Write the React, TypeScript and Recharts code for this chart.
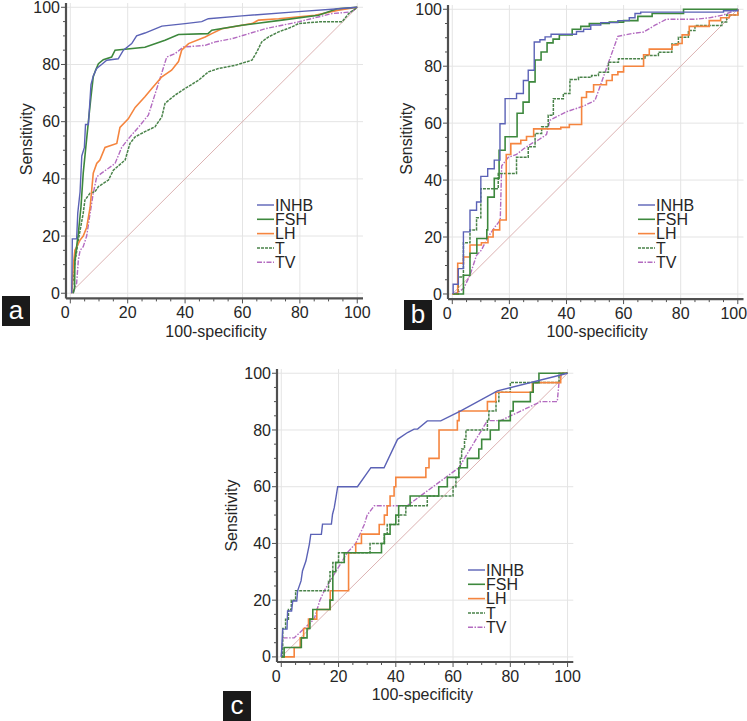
import React from 'react';
import { LineChart, Line, XAxis, YAxis, ReferenceLine, Legend } from 'recharts';

type P = [number, number];

const SERIES = ['INHB', 'FSH', 'LH', 'T', 'TV'];
const TICKS = [0, 5, 10, 15, 20, 25, 30, 35, 40, 45, 50, 55, 60, 65, 70, 75, 80, 85, 90, 95, 100];
const GRID = [0, 20, 40, 60, 80, 100];
const DIAGONAL: P[] = [[0, 0], [100, 100]];
const X_LABEL = '100-specificity';
const Y_LABEL = 'Sensitivity';

// ---------- Panel a ----------
const A_INHB: P[] = [[0.5, 0], [0.7, 19], [2.2, 19], [2.6, 28], [3.4, 35.5], [4, 48], [4.9, 51], [5.3, 59], [6.3, 59], [6.5, 62], [7.2, 73], [8, 76], [9.2, 78.6], [10.9, 80], [12.7, 81.5], [16.7, 82], [18.5, 85], [21.4, 87.3], [23.1, 90], [26, 91], [31.9, 93.4], [40, 94.3], [45.8, 95], [48.1, 96], [59.8, 97], [79.5, 98.5], [93.5, 99.5], [100, 100]];
const A_FSH: P[] = [[1, 0], [1.5, 2], [1.6, 11.6], [2.8, 21], [3.7, 30], [4.5, 42], [5.4, 51], [6.3, 60], [7.2, 68.7], [8, 75.7], [8.8, 78], [9.8, 80.3], [11.5, 81.7], [14.4, 82.6], [15.6, 85], [26, 86], [33, 88.5], [37.7, 90.5], [48, 90.8], [49.3, 92], [59.8, 93.7], [73.7, 95.5], [86.5, 97.2], [93, 99.5], [100, 100]];
const A_LH: P[] = [[0.5, 0], [1, 9.3], [1.6, 15], [3.4, 18.6], [4.5, 20], [5.7, 23], [6.9, 30], [8, 42], [9.2, 45.4], [10.3, 46.6], [12.1, 51], [16.2, 52.4], [17.3, 58], [20.2, 61], [22.6, 65], [26, 68.7], [28.4, 71.6], [31.9, 75.7], [35.3, 78], [37.7, 81], [38.8, 85], [41.2, 87.3], [47, 89.6], [49.3, 90.8], [52.8, 92.5], [63.3, 94.3], [65.6, 95.5], [72.6, 96], [85.3, 97.2], [93.5, 99], [100, 100]];
const A_T: P[] = [[0.5, 0], [1.6, 10.5], [2.8, 18.6], [4.5, 28], [5.1, 32.6], [6.9, 35], [8.6, 35.5], [9.8, 37.3], [13.3, 39.6], [15, 43], [19.1, 46.6], [20.8, 52.4], [22.6, 54.7], [26, 56.5], [29.5, 58.2], [31.9, 61.7], [33, 66.4], [36.5, 69.3], [40, 71.6], [44.7, 74.5], [48.1, 77.4], [51.6, 78.6], [57.4, 79.7], [63.3, 81.5], [65, 84.4], [66.7, 87.9], [69, 89.6], [72.6, 91.4], [77.2, 93.1], [79.5, 94.3], [86.5, 94.9], [94.7, 94.9], [97, 97.8], [100, 100]];
const A_TV: P[] = [[1, 0], [2.2, 3.5], [2.8, 11.6], [3.4, 15], [4.5, 16.3], [5.7, 20], [6.9, 28], [8, 35], [9.2, 40.7], [10.9, 42], [13.3, 43.7], [15.6, 45.4], [17.9, 51], [20.8, 54.7], [23.7, 58], [27.2, 62.3], [30.7, 73.3], [33.6, 82.6], [36.5, 83.8], [39.4, 86.1], [47, 86.7], [50.5, 87.9], [56.3, 89], [67.9, 92.5], [79.5, 94.9], [91.2, 97.8], [98, 98.4], [100, 100]];

// ---------- Panel b ----------
const B_INHB: P[] = [[0.3, 0], [0.3, 3.4], [2.1, 8.9], [3.9, 21.8], [6.2, 29.4], [8.5, 32.3], [10, 41.3], [12.4, 44], [14.7, 47], [16.7, 59.8], [18.5, 68.6], [22.5, 70.4], [24.9, 75], [26.6, 78.6], [28.7, 88.5], [30.7, 89.3], [32.5, 90.3], [34.6, 91.2], [43.5, 92.2], [46, 93], [48.5, 94.5], [52, 95.3], [58, 96], [62, 97], [64, 98.5], [66, 99], [95, 99.5], [100, 100]];
const B_FSH: P[] = [[0.3, 0], [3.9, 6.6], [6.2, 14.3], [8.6, 19.5], [12.1, 22.5], [12.4, 34], [14.7, 40.6], [16.4, 50.5], [18.5, 55.2], [22.7, 63.5], [24.8, 67.4], [26.9, 74.5], [29, 82.2], [31.1, 85], [33.2, 88.2], [35.3, 89.5], [37.5, 91], [42, 93], [45, 94], [48, 95], [55, 95.5], [60, 96], [65, 97.5], [70, 98.5], [81, 100], [100, 100]];
const B_LH: P[] = [[0, 0], [1.9, 10.8], [3.9, 13], [6.2, 17.2], [10.2, 18], [12.5, 20], [14.3, 22.5], [16.6, 26], [18.9, 49], [20.5, 52.8], [24, 54], [26, 55.3], [28.5, 58], [38, 58.5], [41, 59.5], [45.3, 69], [47, 71], [49.5, 73.5], [54, 75], [56, 77], [58, 78], [60, 80], [67, 84], [69, 86], [77, 87.5], [79, 88], [80.5, 91], [83, 94], [90, 96], [94, 97], [97, 98], [100, 100]];
const B_T: P[] = [[0, 0], [2.1, 6], [3.9, 18], [6.2, 22.5], [8.5, 26.8], [10, 37], [16.1, 42.3], [22.5, 48], [26.6, 51.7], [29, 56.4], [31.3, 58.7], [33.6, 62.8], [35.4, 68.6], [38.9, 70.4], [41.2, 75.3], [44.2, 76.1], [48.8, 76.7], [51.2, 77.9], [54.7, 81.4], [58.2, 82.6], [67.5, 83.8], [72.2, 84.9], [76.9, 87.8], [79.2, 90.2], [82.7, 92.5], [85, 94.3], [94.4, 95.5], [96.1, 98], [100, 100]];
const B_TV: P[] = [[0, 0], [2, 0.5], [4, 2], [6.2, 6.6], [8.5, 13.6], [10.2, 15.4], [12.5, 20], [14.9, 23.5], [16.8, 25.9], [17.3, 45], [19.6, 48], [22.5, 49], [25, 51], [28, 53], [30, 54], [33, 56], [34.2, 61], [37, 62.5], [40, 64], [46, 66], [50, 68], [58, 90.5], [63, 91.5], [67, 92], [71, 94.4], [75, 96.5], [85, 96.5], [90, 97], [95, 98], [100, 100]];

// ---------- Panel c ----------
const C_INHB: P[] = [[0, 0], [0.5, 9.8], [2, 9.8], [2.2, 16.2], [3.6, 16.2], [4, 19.7], [5.4, 19.7], [5.7, 23.3], [6.9, 26.8], [7.4, 30.3], [8.6, 33.8], [9.8, 39.7], [10.3, 43.2], [14, 43.2], [14.4, 46.8], [17.5, 46.8], [17.9, 50.3], [18.5, 52.6], [19.1, 56.2], [19.7, 60], [26.6, 60], [31.3, 66.7], [35.9, 66.7], [40.6, 76.7], [44.1, 79.1], [46.4, 80.3], [47.6, 80.3], [51, 83.2], [55.7, 83.2], [62.7, 86.7], [75.5, 93.8], [100, 100]];
const C_FSH: P[] = [[0, 0], [1, 3.3], [7, 6.7], [9, 10], [10, 13.3], [11, 16.7], [17, 20], [18, 30], [19, 33.3], [22, 36.7], [35, 40], [36, 43.3], [38, 46.7], [40, 50], [41, 53.3], [45, 56.7], [55, 60], [58, 63.3], [62, 66.7], [65, 70], [69, 73.3], [70, 76.7], [73, 80], [76, 83.3], [80, 86.7], [81, 90], [87, 93.3], [88, 96.7], [90, 100], [100, 100]];
const C_LH: P[] = [[0, 0], [4.5, 3.3], [6.6, 6.7], [7.8, 10], [9.5, 13.3], [12.4, 16.7], [17.1, 23.3], [23.5, 36.7], [26, 40], [28, 43.3], [34.2, 46.7], [36, 50], [37, 53.3], [38, 56.7], [39.4, 60], [40, 63.3], [50.5, 66.7], [51.6, 70], [55.1, 80], [61.5, 83.3], [62.1, 86.7], [72, 90], [74.9, 93.3], [87.7, 96.7], [97.6, 100], [100, 100]];
const C_T: P[] = [[0, 0], [0.5, 10], [1.5, 13.3], [2.5, 16.7], [3.5, 20], [5, 23.3], [16.5, 26.7], [17, 30], [18, 33.3], [20, 36.7], [31, 40], [36, 43.3], [37, 46.7], [41, 50], [43.5, 53.3], [51, 56.7], [60, 60], [61, 63.3], [62, 66.7], [62.5, 70], [63, 73.3], [64, 76.7], [64.5, 80], [72, 83.3], [72.5, 86.7], [75, 90], [76, 93.3], [80, 96.7], [97, 100], [100, 100]];
const C_TV: P[] = [[0, 0], [0.5, 6.7], [4.5, 6.7], [8, 10], [11.5, 13.3], [12.5, 16.7], [13.5, 20], [15, 23.3], [17, 26.7], [19, 30], [21, 33.3], [23, 36.7], [26, 40], [27.5, 43.3], [29, 46.7], [30, 50], [32.5, 53.3], [44, 53.3], [62, 66.7], [64, 70], [66, 73.3], [68, 76.7], [70, 80], [72, 83.3], [76.6, 83.3], [90.6, 90], [96.4, 90], [97, 96.7], [98, 100], [100, 100]];

// ---------- styles ----------
const LINE_STYLE: Record<string, { stroke: string; width: number; dash?: string }> = {
  INHB: { stroke: '#5b62b6', width: 1.4 },
  FSH: { stroke: '#3d883d', width: 1.6 },
  LH: { stroke: '#f5853f', width: 1.6 },
  T: { stroke: '#4a834a', width: 1.5, dash: '3 1' },
  TV: { stroke: '#b36bc0', width: 1.4, dash: '5 1.5 1.5 1.5' },
};
const DRAW_ORDER = ['TV', 'T', 'LH', 'FSH', 'INHB'];
const FONT = '"Liberation Sans", Arial, sans-serif';
const TEXT_COLOR = '#262626';
const AXIS_COLOR = '#505050';
const GRID_COLOR = '#e4e4e4';
const DOMAIN_X: [number, number] = [-1.5, 102];
const DOMAIN_Y: [number, number] = [-1.8, 101.5];
const YW = 60;
const XH = 50;
const MT = 10;
const MR = 8;

const toPts = (arr: P[]) => arr.map(([x, y]) => ({ x, y }));

type Panel = {
  key: string;
  plotLeft: number;
  plotTop: number;
  plotW: number;
  plotH: number;
  series: Record<string, P[]>;
  types: Record<string, 'linear' | 'stepAfter'>;
  yLabel: [number, number];
  xLabel: [number, number];
  legend: [number, number];
  box: [number, number];
  lastTickShift: number;
};

const PANELS: Panel[] = [
  {
    key: 'a', plotLeft: 66, plotTop: 2.7, plotW: 297, plotH: 295.4,
    series: { INHB: A_INHB, FSH: A_FSH, LH: A_LH, T: A_T, TV: A_TV },
    types: { INHB: 'linear', FSH: 'linear', LH: 'linear', T: 'linear', TV: 'linear' },
    yLabel: [27, 139], xLabel: [216, 337], legend: [257, 205], box: [2, 296], lastTickShift: 0,
  },
  {
    key: 'b', plotLeft: 447.9, plotTop: 4.7, plotW: 295.5, plotH: 294.1,
    series: { INHB: B_INHB, FSH: B_FSH, LH: B_LH, T: B_T, TV: B_TV },
    types: { INHB: 'stepAfter', FSH: 'stepAfter', LH: 'stepAfter', T: 'stepAfter', TV: 'linear' },
    yLabel: [406, 138.5], xLabel: [597, 337], legend: [638, 205], box: [404, 300], lastTickShift: -4,
  },
  {
    key: 'c', plotLeft: 276.7, plotTop: 369.4, plotW: 296.3, plotH: 293,
    series: { INHB: C_INHB, FSH: C_FSH, LH: C_LH, T: C_T, TV: C_TV },
    types: { INHB: 'linear', FSH: 'stepAfter', LH: 'stepAfter', T: 'stepAfter', TV: 'linear' },
    yLabel: [231.5, 516], xLabel: [422, 700], legend: [468, 570], box: [223, 691], lastTickShift: 0,
  },
];

function LegendBox() {
  const rowH = 14.3;
  return (
    <svg width={110} height={80} style={{ overflow: 'visible', display: 'block' }}>
      {SERIES.map((n, i) => {
        const s = LINE_STYLE[n];
        const cy = 7 + i * rowH;
        return (
          <g key={n}>
            <line x1={0} x2={17} y1={cy} y2={cy} stroke={s.stroke} strokeWidth={s.width} strokeDasharray={s.dash} />
            <text x={18} y={cy + 5.7} fontSize={16} fontFamily={FONT} fill={TEXT_COLOR}>{n}</text>
          </g>
        );
      })}
    </svg>
  );
}

function PanelChart({ p }: { p: Panel }) {
  const left = p.plotLeft - YW;
  const top = p.plotTop - MT;
  const W = p.plotW + YW + MR;
  const H = p.plotH + MT + XH;
  const axisY = MT + p.plotH;
  const axisX = YW;

  const XTick = (props: any) => {
    const { x, payload } = props;
    const v = payload.value as number;
    const major = v % 20 === 0;
    const dx = v === 0 ? -5 : v === 100 ? p.lastTickShift : 0;
    return (
      <g>
        <line x1={x} x2={x} y1={axisY} y2={axisY + (major ? 5 : 3)} stroke={AXIS_COLOR} strokeWidth={1} />
        {major && (
          <text x={x + dx} y={axisY + 20} textAnchor="middle" fontSize={16} fontFamily={FONT} fill={TEXT_COLOR}>{v}</text>
        )}
      </g>
    );
  };
  const YTick = (props: any) => {
    const { y, payload } = props;
    const v = payload.value as number;
    const major = v % 20 === 0;
    return (
      <g>
        <line x1={axisX - (major ? 5 : 3)} x2={axisX} y1={y} y2={y} stroke={AXIS_COLOR} strokeWidth={1} />
        {major && (
          <text x={axisX - 6} y={y + 5.6} textAnchor="end" fontSize={16} fontFamily={FONT} fill={TEXT_COLOR}>{v}</text>
        )}
      </g>
    );
  };
  const yl = [p.yLabel[0] - left, p.yLabel[1] - top];
  const xl = [p.xLabel[0] - left, p.xLabel[1] - top];

  return (
    <div style={{ position: 'absolute', left, top, width: W, height: H }}>
      <LineChart width={W} height={H} margin={{ top: MT, right: MR, bottom: 0, left: 0 }}>
        <XAxis
          type="number" dataKey="x" domain={DOMAIN_X} ticks={TICKS} interval={0} allowDataOverflow
          height={XH} tickLine={false} axisLine={false} tick={XTick}
          label={() => (
            <text x={xl[0]} y={xl[1]} textAnchor="middle" fontSize={16} fontFamily={FONT} fill={TEXT_COLOR}>{X_LABEL}</text>
          )}
        />
        <YAxis
          type="number" dataKey="y" domain={DOMAIN_Y} ticks={TICKS} interval={0} allowDataOverflow
          width={YW} tickLine={false} axisLine={false} tick={YTick}
          label={() => (
            <text x={yl[0]} y={yl[1]} transform={`rotate(-90 ${yl[0]} ${yl[1]})`} textAnchor="middle" dominantBaseline="central" fontSize={16} fontFamily={FONT} fill={TEXT_COLOR}>{Y_LABEL}</text>
          )}
        />
        {GRID.map((g) => (
          <ReferenceLine key={'gx' + g} x={g} stroke={GRID_COLOR} strokeWidth={1} />
        ))}
        {GRID.map((g) => (
          <ReferenceLine key={'gy' + g} y={g} stroke={GRID_COLOR} strokeWidth={1} />
        ))}
        <ReferenceLine x={DOMAIN_X[0]} stroke={AXIS_COLOR} strokeWidth={2.2} ifOverflow="visible" />
        <ReferenceLine y={DOMAIN_Y[0]} stroke={AXIS_COLOR} strokeWidth={2.2} ifOverflow="visible" />
        <Line data={toPts(DIAGONAL)} dataKey="y" type="linear" stroke="#dcb2b2" strokeWidth={1} dot={false} activeDot={false} isAnimationActive={false} legendType="none" />
        {DRAW_ORDER.map((n) => {
          const s = LINE_STYLE[n];
          return (
            <Line
              key={n} name={n} data={toPts(p.series[n])} dataKey="y" type={p.types[n]}
              stroke={s.stroke} strokeWidth={s.width} strokeDasharray={s.dash}
              dot={false} activeDot={false} isAnimationActive={false}
            />
          );
        })}
        <Legend
          layout="vertical" align="center" verticalAlign="middle"
          content={() => <LegendBox />}
          wrapperStyle={{ left: p.legend[0] - left, top: p.legend[1] - 7 - top, width: 110, height: 80 }}
        />
      </LineChart>
    </div>
  );
}

export default function App() {
  return (
    <div style={{ position: 'absolute', left: 0, top: 0, width: 747, height: 721, overflow: 'hidden', background: '#fff' }}>
      {PANELS.map((p) => (
        <React.Fragment key={p.key}>
          <PanelChart p={p} />
          <div
            style={{
              position: 'absolute', left: p.box[0], top: p.box[1], width: 28, height: 30,
              background: '#1a1a1a', color: '#fff', fontFamily: FONT, fontSize: 26,
              lineHeight: '28px', textAlign: 'center',
            }}
          >
            {p.key}
          </div>
        </React.Fragment>
      ))}
    </div>
  );
}
